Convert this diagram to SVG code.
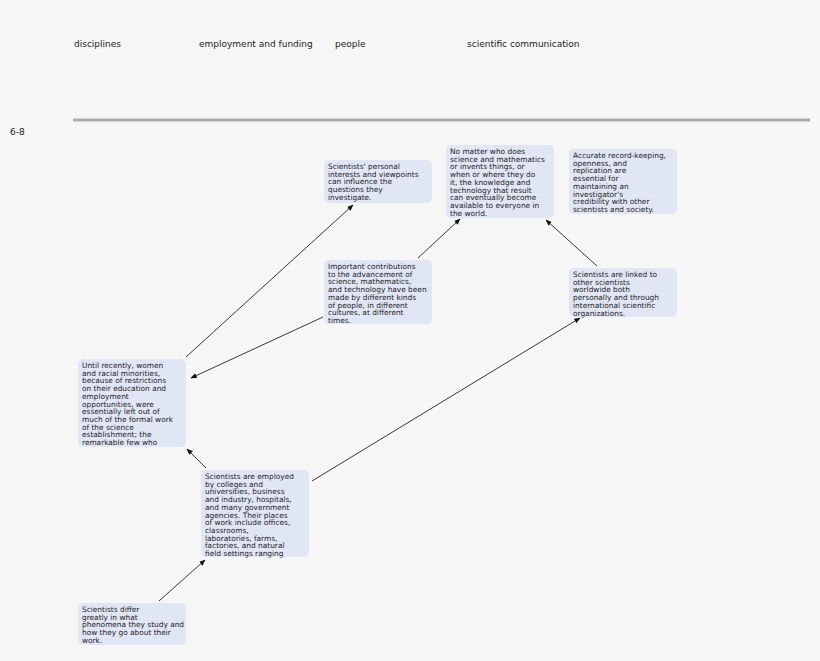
<svg xmlns="http://www.w3.org/2000/svg" width="820" height="661" viewBox="0 0 820 661">
<style>
text{font-family:"DejaVu Sans",sans-serif;fill:#222}
.h{font-size:9px}
.n rect{fill:#e1e6f5}
.n text{font-size:7.4px}
#edges line{stroke:#222;stroke-width:0.9;marker-end:url(#ar)}
</style>
<defs><marker id="ar" viewBox="0 0 10 10" refX="9" refY="5" markerWidth="7" markerHeight="7" orient="auto"><path d="M0,1L10,5L0,9z" fill="#111"/></marker></defs>
<rect width="820" height="661" fill="#f6f6f6"/>
<text class="h" x="74" y="47">disciplines</text>
<text class="h" x="199" y="47">employment and funding</text>
<text class="h" x="335" y="47">people</text>
<text class="h" x="467" y="47">scientific communication</text>
<line x1="73" y1="120" x2="810" y2="120" stroke="#aaa" stroke-width="3"/>
<text class="h" x="10" y="135">6-8</text>
<g id="edges">
<line x1="186" y1="357" x2="353" y2="205"/>
<line x1="323" y1="317" x2="191" y2="378"/>
<line x1="418" y1="258" x2="460" y2="219"/>
<line x1="597" y1="266" x2="546" y2="220"/>
<line x1="312" y1="481" x2="580" y2="318"/>
<line x1="206" y1="468" x2="187" y2="449"/>
<line x1="159" y1="601" x2="205" y2="560"/>
</g>
<g id="nA" class="n"><rect x="324" y="160" width="108" height="43" rx="5"/><text x="328" y="169"><tspan x="328">Scientists' personal</tspan><tspan x="328" dy="7.7">interests and viewpoints</tspan><tspan x="328" dy="7.7">can influence the</tspan><tspan x="328" dy="7.7">questions they</tspan><tspan x="328" dy="7.7">investigate.</tspan></text></g>
<g id="nB" class="n"><rect x="446" y="145" width="108" height="73" rx="5"/><text x="450" y="154"><tspan x="450">No matter who does</tspan><tspan x="450" dy="7.7">science and mathematics</tspan><tspan x="450" dy="7.7">or invents things, or</tspan><tspan x="450" dy="7.7">when or where they do</tspan><tspan x="450" dy="7.7">it, the knowledge and</tspan><tspan x="450" dy="7.7">technology that result</tspan><tspan x="450" dy="7.7">can eventually become</tspan><tspan x="450" dy="7.7">available to everyone in</tspan><tspan x="450" dy="7.7">the world.</tspan></text></g>
<g id="nC" class="n"><rect x="569" y="149" width="108" height="65" rx="5"/><text x="573" y="158"><tspan x="573">Accurate record-keeping,</tspan><tspan x="573" dy="7.7">openness, and</tspan><tspan x="573" dy="7.7">replication are</tspan><tspan x="573" dy="7.7">essential for</tspan><tspan x="573" dy="7.7">maintaining an</tspan><tspan x="573" dy="7.7">investigator's</tspan><tspan x="573" dy="7.7">credibility with other</tspan><tspan x="573" dy="7.7">scientists and society.</tspan></text></g>
<g id="nD" class="n"><rect x="324" y="260" width="108" height="64" rx="5"/><text x="328" y="269"><tspan x="328">Important contributions</tspan><tspan x="328" dy="7.7">to the advancement of</tspan><tspan x="328" dy="7.7">science, mathematics,</tspan><tspan x="328" dy="7.7">and technology have been</tspan><tspan x="328" dy="7.7">made by different kinds</tspan><tspan x="328" dy="7.7">of people, in different</tspan><tspan x="328" dy="7.7">cultures, at different</tspan><tspan x="328" dy="7.7">times.</tspan></text></g>
<g id="nE" class="n"><rect x="569" y="268" width="108" height="49" rx="5"/><text x="573" y="277"><tspan x="573">Scientists are linked to</tspan><tspan x="573" dy="7.7">other scientists</tspan><tspan x="573" dy="7.7">worldwide both</tspan><tspan x="573" dy="7.7">personally and through</tspan><tspan x="573" dy="7.7">international scientific</tspan><tspan x="573" dy="7.7">organizations.</tspan></text></g>
<g id="nF" class="n"><rect x="78" y="359" width="108" height="88" rx="5"/><text x="82" y="368"><tspan x="82">Until recently, women</tspan><tspan x="82" dy="7.7">and racial minorities,</tspan><tspan x="82" dy="7.7">because of restrictions</tspan><tspan x="82" dy="7.7">on their education and</tspan><tspan x="82" dy="7.7">employment</tspan><tspan x="82" dy="7.7">opportunities, were</tspan><tspan x="82" dy="7.7">essentially left out of</tspan><tspan x="82" dy="7.7">much of the formal work</tspan><tspan x="82" dy="7.7">of the science</tspan><tspan x="82" dy="7.7">establishment; the</tspan><tspan x="82" dy="7.7">remarkable few who</tspan></text></g>
<g id="nG" class="n"><rect x="201" y="470" width="108" height="87" rx="5"/><text x="205" y="479"><tspan x="205">Scientists are employed</tspan><tspan x="205" dy="7.7">by colleges and</tspan><tspan x="205" dy="7.7">universities, business</tspan><tspan x="205" dy="7.7">and industry, hospitals,</tspan><tspan x="205" dy="7.7">and many government</tspan><tspan x="205" dy="7.7">agencies. Their places</tspan><tspan x="205" dy="7.7">of work include offices,</tspan><tspan x="205" dy="7.7">classrooms,</tspan><tspan x="205" dy="7.7">laboratories, farms,</tspan><tspan x="205" dy="7.7">factories, and natural</tspan><tspan x="205" dy="7.7">field settings ranging</tspan></text></g>
<g id="nH" class="n"><rect x="78" y="603" width="108" height="42" rx="5"/><text x="82" y="612"><tspan x="82">Scientists differ</tspan><tspan x="82" dy="7.7">greatly in what</tspan><tspan x="82" dy="7.7">phenomena they study and</tspan><tspan x="82" dy="7.7">how they go about their</tspan><tspan x="82" dy="7.7">work.</tspan></text></g>
</svg>
